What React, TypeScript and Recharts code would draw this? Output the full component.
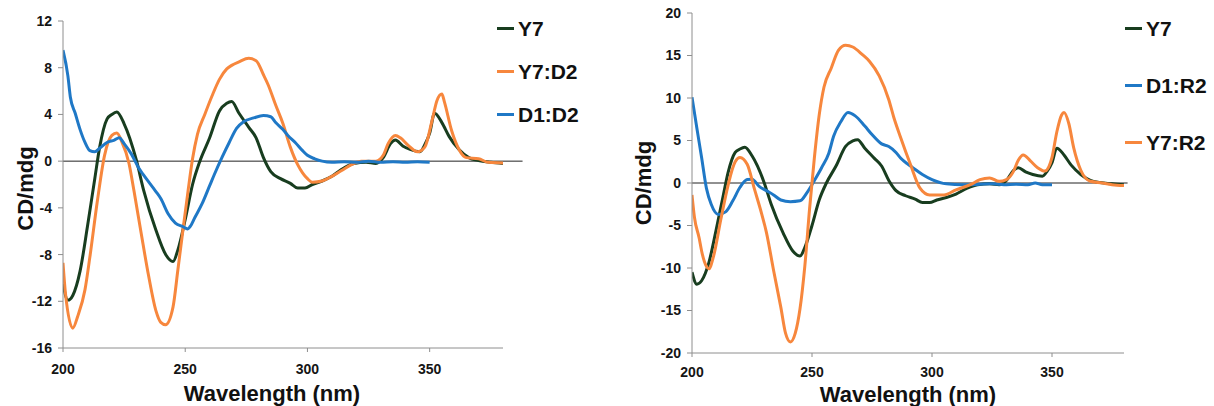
import React from 'react'
import { LineChart, Line, XAxis, YAxis, ReferenceLine, Legend } from 'recharts'

// wavelength (nm) / CD (mdeg) pairs
const y7Nm = [200, 202, 204, 207, 210, 213, 215, 218, 220, 222, 225, 230, 233, 238, 242, 245, 247, 250, 253, 256, 260, 264, 267, 269, 272, 276, 279, 282, 285, 289, 293, 296, 299, 302, 306, 310, 314, 319, 324, 328, 331, 334, 336, 339, 342, 346, 348, 350, 352, 355, 358, 362, 366, 370, 375, 380]
const y7Cd = [-10.5, -11.9, -11.5, -9.4, -5.6, -1.5, 1.2, 3.6, 4.0, 4.2, 3.2, 0.1, -2.5, -5.9, -8.0, -8.6, -7.6, -5.0, -2.0, 0.0, 2.0, 4.3, 4.95, 5.1, 4.1, 2.9, 2.0, 0.3, -0.9, -1.5, -1.9, -2.3, -2.3, -2.0, -1.7, -1.3, -0.7, -0.2, -0.1, -0.2, 0.3, 1.5, 1.8, 1.3, 1.0, 0.8, 1.4, 2.4, 4.1, 3.3, 2.1, 1.0, 0.3, 0.05, -0.1, -0.2]

const y7d2Nm = [200, 201, 204, 206, 209, 211, 214, 217, 220, 222, 224, 227, 229, 232, 235, 238, 240, 242, 245, 247, 249, 251, 253, 255, 258, 261, 264, 267, 269, 272, 276, 279, 282, 284, 287, 290, 293, 296, 298, 300, 302, 306, 310, 314, 318, 322, 328, 331, 333, 336, 338, 341, 345, 348, 351, 353, 355, 356, 359, 362, 365, 370, 374, 380]
const y7d2Cd = [-8.7, -11.3, -14.3, -13.3, -11.0, -8.2, -3.5, 0.5, 2.2, 2.4, 1.7, -0.2, -2.5, -6.2, -9.8, -12.8, -13.8, -14.0, -12.5, -9.3, -6.0, -2.8, 0.2, 2.3, 4.0, 5.6, 7.0, 7.9, 8.2, 8.5, 8.8, 8.6, 7.4, 6.5, 4.8, 3.2, 1.2, -0.3, -1.0, -1.5, -1.8, -1.7, -1.3, -0.8, -0.3, 0.0, 0.0, 0.5, 1.5, 2.2, 2.0, 1.4, 0.8, 1.2, 3.5, 5.2, 5.75, 5.1, 2.6, 1.0, 0.3, 0.2, -0.1, -0.15]

const d1d2Nm = [200, 202, 203, 205, 207, 209, 211, 213, 215, 218, 221, 223, 225, 228, 231, 233, 238, 240, 243, 246, 249, 251, 252, 254, 257, 260, 262, 265, 268, 271, 274, 278, 282, 285, 287, 290, 292, 295, 298, 300, 303, 306, 310, 315, 320, 325, 330, 335, 340, 345, 350]
const d1d2Cd = [9.5, 7.3, 5.5, 4.1, 2.7, 1.6, 0.9, 0.8, 1.1, 1.6, 1.8, 2.0, 1.5, 0.6, -0.6, -1.2, -2.6, -3.2, -4.5, -5.3, -5.6, -5.8, -5.6, -4.8, -3.6, -2.1, -1.1, 0.3, 1.6, 2.8, 3.4, 3.7, 3.9, 3.8, 3.3, 2.7, 2.2, 1.6, 0.9, 0.5, 0.2, 0.0, -0.1, -0.05, -0.1, 0.0, -0.1, -0.05, -0.1, -0.05, -0.1]

const y7r2Nm = [200, 201, 203, 204, 206, 207, 209, 212, 215, 217, 218, 220, 223, 226, 229, 231, 234, 237, 239, 241, 243, 245, 247, 249, 251, 253, 255, 258, 261, 264, 267, 271, 274, 278, 282, 284, 287, 291, 295, 299, 305, 310, 316, 320, 324, 328, 331, 334, 336, 338, 341, 344, 347, 350, 352, 354, 355, 357, 359, 362, 366, 371, 375, 380]
const y7r2Cd = [-1.4, -4.0, -6.5, -8.0, -9.8, -10.1, -8.6, -4.3, -0.3, 1.8, 2.5, 3.0, 2.2, -0.7, -3.6, -5.8, -10.3, -14.6, -17.7, -18.7, -17.7, -14.8, -9.8, -3.0, 3.0, 8.0, 11.3, 13.5, 15.6, 16.2, 16.0, 15.1, 14.3, 12.6, 9.8, 7.8, 5.3, 2.2, -0.6, -1.4, -1.4, -0.8, -0.2, 0.4, 0.6, 0.2, 0.4, 1.4, 2.7, 3.3, 2.6, 1.8, 1.4, 3.0, 6.0, 8.0, 8.3, 7.0, 4.2, 1.5, 0.2, 0.0, -0.2, -0.3]

const d1r2Nm = [200, 202, 204, 206, 208, 211, 214, 217, 220, 223, 225, 228, 231, 234, 237, 241, 245, 248, 251, 254, 257, 259, 262, 265, 268, 272, 275, 279, 282, 285, 287, 290, 292, 296, 300, 306, 313, 320, 325, 330, 335, 340, 343, 346, 350]
const d1r2Cd = [10.1, 6.5, 3.0, -0.6, -2.5, -3.7, -3.4, -2.1, -0.5, 0.4, 0.45, -0.4, -0.9, -1.4, -2.0, -2.2, -2.1, -1.1, 0.3, 1.8, 3.5, 5.5, 7.2, 8.3, 7.9, 6.7, 5.7, 4.6, 4.3, 3.6, 2.9, 2.2, 1.8, 1.0, 0.4, -0.1, -0.2, -0.15, -0.1, -0.2, -0.15, -0.2, 0.0, -0.2, -0.2]

const xTicks = [200, 250, 300, 350]
const leftYTicks = [-16, -12, -8, -4, 0, 4, 8, 12]
const rightYTicks = [-20, -15, -10, -5, 0, 5, 10, 15, 20]

const GREEN = '#183d1f'
const ORANGE = '#f7873d'
const BLUE = '#1f78c6'
const AXIS = '#8e8e8e'
const FONT = '"Liberation Sans", Arial, sans-serif'

const zip = (nm: number[], cd: number[]) => nm.map((x, i) => ({ nm: x, cd: cd[i] }))

const tickStyle = { fontSize: 14, fontWeight: 700, fill: '#151515', fontFamily: FONT }

type Series = { name: string; color: string; data: { nm: number; cd: number }[] }

function LegendList({ series, rowHeight }: { series: Series[]; rowHeight: number }) {
  return (
    <div style={{ fontFamily: FONT, fontWeight: 700, fontSize: 21, color: '#111' }}>
      {series.map((s) => (
        <div key={s.name} style={{ display: 'flex', alignItems: 'center', height: rowHeight }}>
          <span style={{ display: 'inline-block', width: 17, height: 3, background: s.color, marginRight: 4 }} />
          <span>{s.name}</span>
        </div>
      ))}
    </div>
  )
}

interface PanelProps {
  left: number
  width: number
  margin: { top: number; right: number; bottom: number; left: number }
  yWidth: number
  xHeight: number
  xTickMargin: number
  yDomain: [number, number]
  yTicks: number[]
  series: Series[]
  zeroEnd: number
  legendLeft: number
  legendTop: number
  legendRow: number
  xLabelDx: number
  xLabelDy: number
  yLabelX: number
  yLabelDy: number
}

function Panel(p: PanelProps) {
  return (
    <div style={{ position: 'absolute', left: p.left, top: 0 }}>
      <LineChart width={p.width} height={406} margin={p.margin}>
        <XAxis
          type="number"
          dataKey="nm"
          domain={[200, 380]}
          ticks={xTicks}
          allowDataOverflow
          stroke={AXIS}
          tickSize={4}
          tickMargin={p.xTickMargin}
          height={p.xHeight}
          fontSize={14}
          fontWeight={700}
          tick={tickStyle}
          label={{
            content: ({ viewBox }: any) => (
              <text
                x={viewBox.x + viewBox.width / 2 + p.xLabelDx}
                y={viewBox.y + p.xLabelDy}
                textAnchor="middle"
                fontFamily={FONT}
                fontWeight={700}
                fontSize={22}
                fill="#111"
              >
                Wavelength (nm)
              </text>
            ),
          }}
        />
        <YAxis
          type="number"
          domain={p.yDomain}
          ticks={p.yTicks}
          allowDataOverflow
          width={p.yWidth}
          stroke={AXIS}
          tickSize={5}
          tickMargin={6}
          fontSize={14}
          fontWeight={700}
          tick={tickStyle}
          label={{
            content: ({ viewBox }: any) => {
              const cy = viewBox.y + viewBox.height / 2 + p.yLabelDy
              return (
                <text
                  x={p.yLabelX}
                  y={cy}
                  transform={`rotate(-90, ${p.yLabelX}, ${cy})`}
                  textAnchor="middle"
                  fontFamily={FONT}
                  fontWeight={700}
                  fontSize={22}
                  fill="#111"
                >
                  CD/mdg
                </text>
              )
            },
          }}
        />
        <ReferenceLine
          segment={[{ x: 200, y: 0 }, { x: p.zeroEnd, y: 0 }]}
          ifOverflow="visible"
          stroke="#222"
          strokeWidth={1}
        />
        {p.series.map((s) => (
          <Line
            key={s.name}
            name={s.name}
            data={s.data}
            dataKey="cd"
            type="monotone"
            stroke={s.color}
            strokeWidth={3}
            dot={false}
            isAnimationActive={false}
          />
        ))}
        <Legend
          layout="vertical"
          align="center"
          verticalAlign="middle"
          width={110}
          wrapperStyle={{ left: p.legendLeft, top: p.legendTop }}
          content={() => <LegendList series={p.series} rowHeight={p.legendRow} />}
        />
      </LineChart>
    </div>
  )
}

export default function App() {
  return (
    <div style={{ position: 'absolute', left: 0, top: 0, width: 1214, height: 406, background: '#fff', overflow: 'hidden' }}>
      <Panel
        left={0}
        width={600}
        margin={{ top: 21, right: 97, bottom: 0, left: 0 }}
        yWidth={63}
        xHeight={58}
        xTickMargin={12}
        yDomain={[-16, 12]}
        yTicks={leftYTicks}
        series={[
          { name: 'Y7', color: GREEN, data: zip(y7Nm, y7Cd) },
          { name: 'Y7:D2', color: ORANGE, data: zip(y7d2Nm, y7d2Cd) },
          { name: 'D1:D2', color: BLUE, data: zip(d1d2Nm, d1d2Cd) },
        ]}
        zeroEnd={388}
        legendLeft={497}
        legendTop={7}
        legendRow={43}
        xLabelDx={-11}
        xLabelDy={53}
        yLabelX={33}
        yLabelDy={4}
      />
      <Panel
        left={600}
        width={614}
        margin={{ top: 13, right: 90, bottom: 0, left: 0 }}
        yWidth={92}
        xHeight={53}
        xTickMargin={10}
        yDomain={[-20, 20]}
        yTicks={rightYTicks}
        series={[
          { name: 'Y7', color: GREEN, data: zip(y7Nm, y7Cd) },
          { name: 'D1:R2', color: BLUE, data: zip(d1r2Nm, d1r2Cd) },
          { name: 'Y7:R2', color: ORANGE, data: zip(y7r2Nm, y7r2Cd) },
        ]}
        zeroEnd={381.5}
        legendLeft={525}
        legendTop={0}
        legendRow={57}
        xLabelDx={0}
        xLabelDy={49}
        yLabelX={51}
        yLabelDy={0}
      />
    </div>
  )
}
